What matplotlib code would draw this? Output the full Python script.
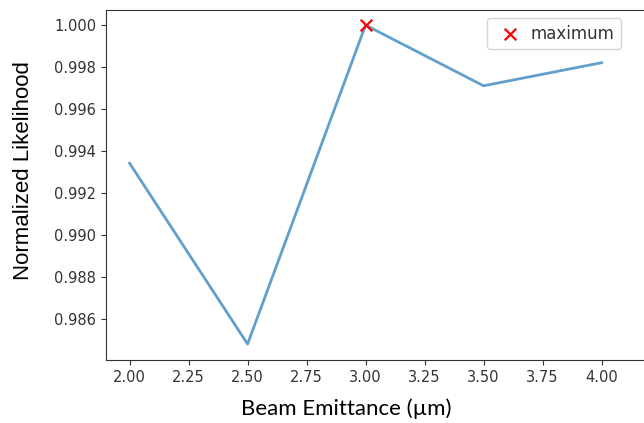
import numpy as np
import matplotlib.pyplot as plt

# emittance scan (um) and normalized likelihood
emittance = np.array([2.0, 2.5, 3.0, 3.5, 4.0])
likelihood = np.array([0.99342, 0.98481, 1.00000, 0.99711, 0.99821])

imax = int(np.argmax(likelihood))

fig = plt.figure(figsize=(6.44, 4.23), dpi=100)
ax = fig.add_axes([106 / 644, 63 / 423, 538 / 644, 350 / 423])

ax.plot(emittance, likelihood, color="#1f77b4", alpha=0.7, linewidth=2)
ax.scatter(emittance[imax], likelihood[imax], marker="x", color="red", s=70,
           linewidths=1.6, label="maximum", zorder=3)

ax.set_xlim(1.9, 4.18)
ax.set_ylim(0.98405, 1.00072)
ax.set_yticks(np.arange(0.986, 1.0001, 0.002))
ax.set_xticks(np.arange(2.0, 4.001, 0.25))
ax.tick_params(labelsize=10.5, colors="#333333", labelcolor="#333333")
ax.spines["right"].set_visible(False)
for s in ("left", "bottom", "top"):
    ax.spines[s].set_color("#333333")

ax.legend(loc="upper left", bbox_to_anchor=(487 / 644, 1 - 18 / 423),
          bbox_transform=fig.transFigure, borderaxespad=0, fontsize=12,
          handletextpad=0.2, borderpad=0.4, labelcolor="#333333")

fig.text(346 / 644, 1 - 409 / 423, "Beam Emittance (\u00b5m)", family="Lato",
         fontsize=16, ha="center", va="center")
fig.text(24 / 644, 1 - 171 / 423, "Normalized Likelihood",
         family="Liberation Sans", fontsize=16, ha="center", va="center",
         rotation=90)

fig.savefig("out.png", dpi=100)
